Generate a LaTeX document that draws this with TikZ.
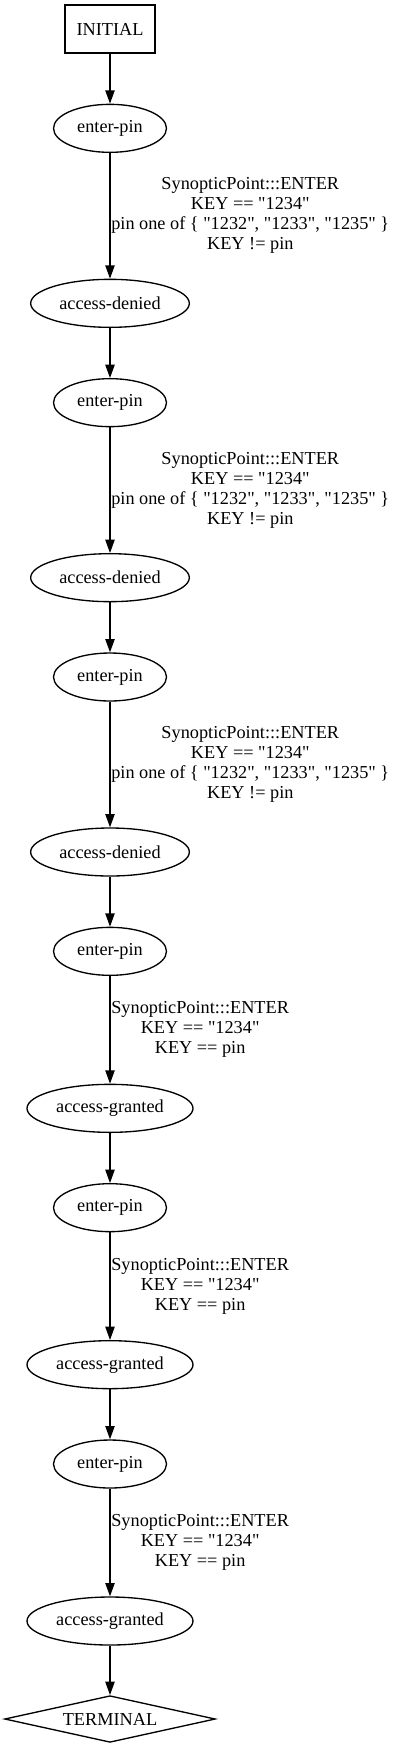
\documentclass[tikz,border=0pt]{standalone}
\usepackage{fontspec}
\setmainfont{Liberation Serif}[Ligatures=TeXOff]
\usepackage{tikz}
\usetikzlibrary{shapes.geometric, arrows.meta, positioning}

\newcommand{\denytxt}{SynopticPoint:::ENTER\\KEY == "1234"\\pin one of \{ "1232", "1233", "1235" \}\\KEY != pin}
\newcommand{\granttxt}{SynopticPoint:::ENTER\\KEY == "1234"\\KEY == pin}

\begin{document}
\begin{tikzpicture}[
  font=\fontsize{13.7pt}{15pt}\selectfont,
  init/.style={rectangle, draw, line width=1pt, minimum width=67.5pt,
    minimum height=36pt, inner sep=0pt},
  state/.style={ellipse, draw, line width=1pt, minimum height=36pt, inner sep=0pt},
  pin/.style={state, minimum width=84.75pt},
  denied/.style={state, minimum width=119pt},
  granted/.style={state, minimum width=124.5pt},
  term/.style={diamond, draw, line width=1pt, minimum width=158pt,
    minimum height=35pt, inner sep=0pt, shape aspect=4.5},
  arr/.style={-{Triangle[length=10pt, width=7pt]}, line width=1pt},
  cond/.style={right, midway, align=center, inner sep=0.5pt},
  node distance=74.5pt, on grid
]
\useasboundingbox (-82.5pt,21.75pt) rectangle (217.5pt,-1290pt);

\node[init] (init) at (0,0) {INITIAL};
\node[pin, below=of init] (e1) {enter-pin};
\node[denied, below=131.25pt of e1] (d1) {access-denied};
\node[pin, below=of d1] (e2) {enter-pin};
\node[denied, below=131.25pt of e2] (d2) {access-denied};
\node[pin, below=of d2] (e3) {enter-pin};
\node[denied, below=131.25pt of e3] (d3) {access-denied};
\node[pin, below=of d3] (e4) {enter-pin};
\node[granted, below=117.75pt of e4] (g1) {access-granted};
\node[pin, below=of g1] (e5) {enter-pin};
\node[granted, below=117.75pt of e5] (g2) {access-granted};
\node[pin, below=of g2] (e6) {enter-pin};
\node[granted, below=117.75pt of e6] (g3) {access-granted};
\node[term, below=73.5pt of g3] (final) {TERMINAL};

\foreach \f/\t in {init/e1, d1/e2, d2/e3, d3/e4, g1/e5, g2/e6, g3/final}
  \draw[arr] (\f) -- (\t);

\foreach \f/\t/\l in {e1/d1/\denytxt, e2/d2/\denytxt, e3/d3/\denytxt,
                      e4/g1/\granttxt, e5/g2/\granttxt, e6/g3/\granttxt}
  \draw[arr] (\f) -- node[cond] (lbl-\f) {\l} (\t);
\end{tikzpicture}
\end{document}
